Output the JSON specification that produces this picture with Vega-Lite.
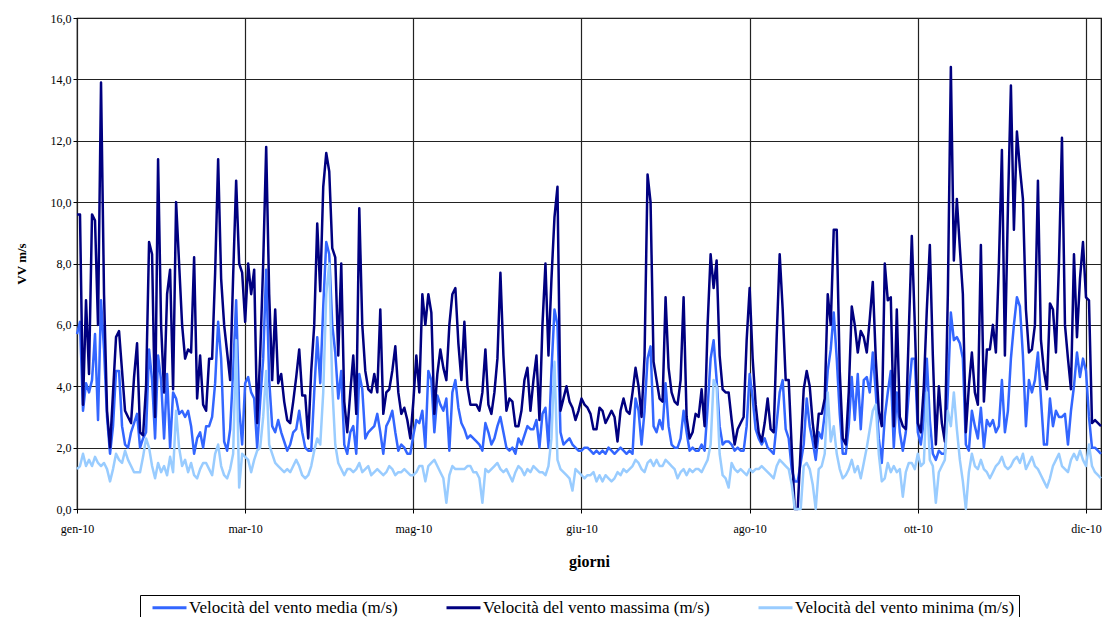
{
"$schema":"https://vega.github.io/schema/vega-lite/v6.json",
"width":1024,"height":491,
"autosize":{"type":"none"},
"padding":{"left":77,"top":18,"right":11,"bottom":108},
"background":"white",
"config":{"view":{"stroke":"#000","strokeWidth":1.2},"font":"Liberation Serif"},
"data":{"values":[
{"giorno":0,"media":5.7,"massima":9.6,"minima":1.3},{"giorno":1,"media":6.1,"massima":9.6,"minima":1.4},{"giorno":2,"media":3.2,"massima":3.4,"minima":1.8},{"giorno":3,"media":4.1,"massima":6.8,"minima":1.4},{"giorno":4,"media":3.8,"massima":4.4,"minima":1.6},{"giorno":5,"media":4.2,"massima":9.6,"minima":1.4},{"giorno":6,"media":5.7,"massima":9.4,"minima":1.7},{"giorno":7,"media":2.9,"massima":6.0,"minima":1.5},{"giorno":8,"media":6.8,"massima":13.9,"minima":1.4},{"giorno":9,"media":5.2,"massima":7.0,"minima":1.5},
{"giorno":10,"media":3.0,"massima":3.2,"minima":1.3},{"giorno":11,"media":1.8,"massima":2.0,"minima":0.9},{"giorno":12,"media":2.7,"massima":3.8,"minima":1.3},{"giorno":13,"media":4.5,"massima":5.6,"minima":1.8},{"giorno":14,"media":4.5,"massima":5.8,"minima":1.6},{"giorno":15,"media":2.7,"massima":4.5,"minima":1.5},{"giorno":16,"media":2.1,"massima":3.2,"minima":1.9},{"giorno":17,"media":2.0,"massima":3.0,"minima":1.6},{"giorno":18,"media":2.5,"massima":2.8,"minima":1.4},{"giorno":19,"media":2.8,"massima":4.3,"minima":1.2},
{"giorno":20,"media":3.1,"massima":5.4,"minima":1.2},{"giorno":21,"media":2.0,"massima":2.5,"minima":1.2},{"giorno":22,"media":2.3,"massima":2.4,"minima":1.7},{"giorno":23,"media":2.5,"massima":4.0,"minima":2.3},{"giorno":24,"media":5.2,"massima":8.7,"minima":2.0},{"giorno":25,"media":4.2,"massima":8.3,"minima":1.4},{"giorno":26,"media":2.3,"massima":3.0,"minima":1.0},{"giorno":27,"media":5.0,"massima":11.4,"minima":1.5},{"giorno":28,"media":4.2,"massima":6.0,"minima":1.2},{"giorno":29,"media":2.3,"massima":3.8,"minima":1.4},
{"giorno":30,"media":4.4,"massima":7.0,"minima":1.1},{"giorno":31,"media":2.0,"massima":7.8,"minima":1.7},{"giorno":32,"media":3.8,"massima":3.9,"minima":1.2},{"giorno":33,"media":3.6,"massima":10.0,"minima":3.2},{"giorno":34,"media":3.1,"massima":8.0,"minima":2.0},{"giorno":35,"media":3.2,"massima":6.0,"minima":1.4},{"giorno":36,"media":3.0,"massima":4.9,"minima":1.6},{"giorno":37,"media":3.2,"massima":5.2,"minima":1.2},{"giorno":38,"media":2.7,"massima":5.1,"minima":1.5},{"giorno":39,"media":1.8,"massima":8.2,"minima":1.1},
{"giorno":40,"media":2.3,"massima":3.6,"minima":1.0},{"giorno":41,"media":2.5,"massima":5.0,"minima":1.3},{"giorno":42,"media":2.0,"massima":3.4,"minima":1.5},{"giorno":43,"media":2.7,"massima":3.2,"minima":1.5},{"giorno":44,"media":2.7,"massima":4.9,"minima":1.3},{"giorno":45,"media":3.0,"massima":4.9,"minima":1.1},{"giorno":46,"media":4.1,"massima":7.7,"minima":1.8},{"giorno":47,"media":6.1,"massima":11.4,"minima":2.1},{"giorno":48,"media":4.9,"massima":7.5,"minima":1.4},{"giorno":49,"media":2.2,"massima":6.0,"minima":1.1},
{"giorno":50,"media":1.9,"massima":5.1,"minima":1.0},{"giorno":51,"media":2.6,"massima":4.2,"minima":1.3},{"giorno":52,"media":4.5,"massima":7.6,"minima":1.8},{"giorno":53,"media":6.8,"massima":10.7,"minima":5.5},{"giorno":54,"media":3.3,"massima":8.0,"minima":0.7},{"giorno":55,"media":2.1,"massima":7.7,"minima":1.8},{"giorno":56,"media":4.1,"massima":6.1,"minima":1.7},{"giorno":57,"media":4.3,"massima":8.0,"minima":1.6},{"giorno":58,"media":3.8,"massima":7.0,"minima":1.2},{"giorno":59,"media":3.6,"massima":7.8,"minima":1.6},
{"giorno":60,"media":2.0,"massima":2.8,"minima":1.9},{"giorno":61,"media":3.5,"massima":5.0,"minima":2.0},{"giorno":62,"media":4.9,"massima":8.0,"minima":3.0},{"giorno":63,"media":7.8,"massima":11.8,"minima":4.5},{"giorno":64,"media":4.2,"massima":7.0,"minima":2.1},{"giorno":65,"media":2.7,"massima":4.2,"minima":1.8},{"giorno":66,"media":2.5,"massima":6.5,"minima":1.5},{"giorno":67,"media":2.9,"massima":4.1,"minima":1.4},{"giorno":68,"media":2.5,"massima":4.4,"minima":1.3},{"giorno":69,"media":2.2,"massima":3.5,"minima":1.2},
{"giorno":70,"media":1.9,"massima":2.9,"minima":1.3},{"giorno":71,"media":2.1,"massima":2.8,"minima":1.2},{"giorno":72,"media":2.5,"massima":3.5,"minima":1.4},{"giorno":73,"media":2.6,"massima":4.3,"minima":1.6},{"giorno":74,"media":3.2,"massima":5.2,"minima":1.4},{"giorno":75,"media":2.5,"massima":3.7,"minima":1.1},{"giorno":76,"media":2.0,"massima":3.7,"minima":1.0},{"giorno":77,"media":1.9,"massima":2.3,"minima":1.1},{"giorno":78,"media":1.9,"massima":4.5,"minima":1.4},{"giorno":79,"media":3.8,"massima":6.0,"minima":1.9},
{"giorno":80,"media":5.6,"massima":9.3,"minima":2.3},{"giorno":81,"media":4.1,"massima":7.1,"minima":2.1},{"giorno":82,"media":6.6,"massima":10.5,"minima":3.8},{"giorno":83,"media":8.7,"massima":11.6,"minima":7.0},{"giorno":84,"media":8.3,"massima":11.0,"minima":8.0},{"giorno":85,"media":6.0,"massima":8.5,"minima":4.0},{"giorno":86,"media":5.1,"massima":8.2,"minima":2.1},{"giorno":87,"media":3.6,"massima":5.0,"minima":1.5},{"giorno":88,"media":4.5,"massima":8.0,"minima":1.3},{"giorno":89,"media":2.1,"massima":3.5,"minima":1.1},
{"giorno":90,"media":1.8,"massima":2.5,"minima":1.3},{"giorno":91,"media":2.5,"massima":3.8,"minima":1.3},{"giorno":92,"media":2.7,"massima":5.0,"minima":1.2},{"giorno":93,"media":1.8,"massima":3.1,"minima":1.3},{"giorno":94,"media":4.4,"massima":9.8,"minima":1.5},{"giorno":95,"media":3.9,"massima":6.0,"minima":1.2},{"giorno":96,"media":2.3,"massima":4.5,"minima":1.3},{"giorno":97,"media":2.5,"massima":3.9,"minima":1.4},{"giorno":98,"media":2.6,"massima":3.8,"minima":1.1},{"giorno":99,"media":2.7,"massima":4.4,"minima":1.2},
{"giorno":100,"media":3.1,"massima":3.8,"minima":1.3},{"giorno":101,"media":2.5,"massima":6.5,"minima":1.2},{"giorno":102,"media":1.8,"massima":3.1,"minima":1.1},{"giorno":103,"media":2.7,"massima":3.8,"minima":1.2},{"giorno":104,"media":2.9,"massima":3.9,"minima":1.4},{"giorno":105,"media":3.2,"massima":4.5,"minima":1.3},{"giorno":106,"media":2.5,"massima":5.3,"minima":1.1},{"giorno":107,"media":1.9,"massima":3.8,"minima":1.2},{"giorno":108,"media":2.1,"massima":3.1,"minima":1.2},{"giorno":109,"media":2.0,"massima":3.3,"minima":1.3},
{"giorno":110,"media":1.8,"massima":2.9,"minima":1.2},{"giorno":111,"media":1.8,"massima":2.3,"minima":1.1},{"giorno":112,"media":2.4,"massima":3.5,"minima":1.1},{"giorno":113,"media":2.9,"massima":5.0,"minima":1.2},{"giorno":114,"media":2.8,"massima":3.8,"minima":1.4},{"giorno":115,"media":3.2,"massima":7.0,"minima":1.4},{"giorno":116,"media":2.0,"massima":6.0,"minima":0.9},{"giorno":117,"media":4.5,"massima":7.0,"minima":1.4},{"giorno":118,"media":4.2,"massima":6.4,"minima":1.5},{"giorno":119,"media":2.5,"massima":3.1,"minima":1.6},
{"giorno":120,"media":3.7,"massima":4.4,"minima":1.4},{"giorno":121,"media":3.4,"massima":5.2,"minima":1.2},{"giorno":122,"media":3.2,"massima":4.6,"minima":1.0},{"giorno":123,"media":3.6,"massima":4.2,"minima":0.2},{"giorno":124,"media":1.9,"massima":6.0,"minima":1.1},{"giorno":125,"media":3.8,"massima":7.0,"minima":1.4},{"giorno":126,"media":4.2,"massima":7.2,"minima":1.3},{"giorno":127,"media":3.3,"massima":5.4,"minima":1.3},{"giorno":128,"media":2.8,"massima":4.2,"minima":1.3},{"giorno":129,"media":2.6,"massima":6.1,"minima":1.3},
{"giorno":130,"media":2.3,"massima":4.0,"minima":1.4},{"giorno":131,"media":2.4,"massima":3.4,"minima":1.4},{"giorno":132,"media":2.3,"massima":3.4,"minima":1.2},{"giorno":133,"media":2.2,"massima":3.4,"minima":1.2},{"giorno":134,"media":2.1,"massima":3.2,"minima":1.0},{"giorno":135,"media":1.9,"massima":3.8,"minima":0.2},{"giorno":136,"media":2.8,"massima":5.2,"minima":1.3},{"giorno":137,"media":2.5,"massima":3.4,"minima":1.2},{"giorno":138,"media":2.1,"massima":3.1,"minima":1.3},{"giorno":139,"media":2.3,"massima":3.8,"minima":1.4},
{"giorno":140,"media":2.7,"massima":4.9,"minima":1.5},{"giorno":141,"media":3.0,"massima":7.7,"minima":1.3},{"giorno":142,"media":2.5,"massima":5.0,"minima":1.2},{"giorno":143,"media":2.0,"massima":3.2,"minima":1.3},{"giorno":144,"media":1.9,"massima":3.6,"minima":1.1},{"giorno":145,"media":2.0,"massima":3.5,"minima":0.9},{"giorno":146,"media":1.8,"massima":2.7,"minima":1.2},{"giorno":147,"media":2.3,"massima":2.7,"minima":1.4},{"giorno":148,"media":2.1,"massima":3.2,"minima":1.3},{"giorno":149,"media":2.4,"massima":4.2,"minima":1.1},
{"giorno":150,"media":2.7,"massima":4.6,"minima":1.3},{"giorno":151,"media":2.6,"massima":3.2,"minima":1.2},{"giorno":152,"media":2.6,"massima":4.2,"minima":1.4},{"giorno":153,"media":2.9,"massima":5.0,"minima":1.3},{"giorno":154,"media":2.0,"massima":2.9,"minima":1.2},{"giorno":155,"media":3.1,"massima":6.0,"minima":1.2},{"giorno":156,"media":3.3,"massima":8.0,"minima":1.1},{"giorno":157,"media":2.0,"massima":5.0,"minima":1.4},{"giorno":158,"media":4.5,"massima":7.5,"minima":2.3},{"giorno":159,"media":6.5,"massima":9.5,"minima":4.8},
{"giorno":160,"media":6.0,"massima":10.5,"minima":1.6},{"giorno":161,"media":2.5,"massima":3.2,"minima":1.3},{"giorno":162,"media":2.1,"massima":3.6,"minima":1.2},{"giorno":163,"media":2.2,"massima":4.0,"minima":1.1},{"giorno":164,"media":2.3,"massima":3.5,"minima":1.0},{"giorno":165,"media":2.1,"massima":3.3,"minima":0.6},{"giorno":166,"media":2.0,"massima":2.9,"minima":1.3},{"giorno":167,"media":1.9,"massima":3.2,"minima":1.2},{"giorno":168,"media":1.9,"massima":3.6,"minima":1.1},{"giorno":169,"media":2.0,"massima":3.4,"minima":1.0},
{"giorno":170,"media":2.0,"massima":3.3,"minima":1.1},{"giorno":171,"media":1.9,"massima":3.1,"minima":1.1},{"giorno":172,"media":1.8,"massima":2.6,"minima":1.2},{"giorno":173,"media":1.9,"massima":2.6,"minima":0.9},{"giorno":174,"media":1.8,"massima":3.3,"minima":1.1},{"giorno":175,"media":1.9,"massima":3.2,"minima":0.9},{"giorno":176,"media":1.8,"massima":2.8,"minima":1.1},{"giorno":177,"media":2.0,"massima":3.0,"minima":1.0},{"giorno":178,"media":1.9,"massima":3.2,"minima":0.9},{"giorno":179,"media":1.8,"massima":3.0,"minima":1.0},
{"giorno":180,"media":1.9,"massima":2.2,"minima":1.2},{"giorno":181,"media":2.0,"massima":3.2,"minima":1.1},{"giorno":182,"media":1.9,"massima":3.6,"minima":1.3},{"giorno":183,"media":1.8,"massima":3.2,"minima":1.2},{"giorno":184,"media":1.9,"massima":3.1,"minima":1.3},{"giorno":185,"media":1.8,"massima":3.8,"minima":1.4},{"giorno":186,"media":3.6,"massima":4.6,"minima":1.6},{"giorno":187,"media":3.2,"massima":4.0,"minima":1.5},{"giorno":188,"media":2.1,"massima":3.0,"minima":1.3},{"giorno":189,"media":3.2,"massima":5.0,"minima":1.2},
{"giorno":190,"media":4.9,"massima":10.9,"minima":1.5},{"giorno":191,"media":5.3,"massima":10.0,"minima":1.6},{"giorno":192,"media":2.7,"massima":4.8,"minima":1.4},{"giorno":193,"media":2.5,"massima":4.2,"minima":1.6},{"giorno":194,"media":2.9,"massima":3.6,"minima":1.4},{"giorno":195,"media":2.6,"massima":3.5,"minima":1.4},{"giorno":196,"media":4.1,"massima":6.9,"minima":1.6},{"giorno":197,"media":2.7,"massima":4.6,"minima":1.5},{"giorno":198,"media":2.1,"massima":3.8,"minima":1.4},{"giorno":199,"media":2.0,"massima":3.5,"minima":1.3},
{"giorno":200,"media":2.0,"massima":3.4,"minima":1.0},{"giorno":201,"media":2.3,"massima":4.2,"minima":1.2},{"giorno":202,"media":3.2,"massima":6.9,"minima":1.3},{"giorno":203,"media":2.5,"massima":3.0,"minima":1.1},{"giorno":204,"media":1.9,"massima":2.3,"minima":1.3},{"giorno":205,"media":2.0,"massima":2.5,"minima":1.2},{"giorno":206,"media":1.9,"massima":3.1,"minima":1.3},{"giorno":207,"media":1.9,"massima":3.0,"minima":1.3},{"giorno":208,"media":2.1,"massima":3.9,"minima":1.2},{"giorno":209,"media":1.9,"massima":2.7,"minima":1.4},
{"giorno":210,"media":3.3,"massima":6.0,"minima":1.6},{"giorno":211,"media":4.9,"massima":8.3,"minima":2.1},{"giorno":212,"media":5.5,"massima":7.2,"minima":4.2},{"giorno":213,"media":4.2,"massima":8.1,"minima":4.0},{"giorno":214,"media":2.7,"massima":5.0,"minima":1.8},{"giorno":215,"media":2.1,"massima":3.9,"minima":1.1},{"giorno":216,"media":2.2,"massima":3.8,"minima":1.0},{"giorno":217,"media":2.2,"massima":3.8,"minima":0.7},{"giorno":218,"media":2.1,"massima":2.9,"minima":1.5},{"giorno":219,"media":1.9,"massima":2.1,"minima":1.3},
{"giorno":220,"media":2.0,"massima":2.6,"minima":1.2},{"giorno":221,"media":1.9,"massima":2.8,"minima":1.3},{"giorno":222,"media":1.9,"massima":3.0,"minima":1.2},{"giorno":223,"media":2.7,"massima":5.5,"minima":1.1},{"giorno":224,"media":4.4,"massima":7.2,"minima":1.3},{"giorno":225,"media":3.6,"massima":4.9,"minima":1.2},{"giorno":226,"media":2.6,"massima":3.4,"minima":1.3},{"giorno":227,"media":2.3,"massima":2.5,"minima":1.3},{"giorno":228,"media":2.1,"massima":2.2,"minima":1.4},{"giorno":229,"media":2.3,"massima":2.8,"minima":1.3},
{"giorno":230,"media":2.0,"massima":3.6,"minima":1.2},{"giorno":231,"media":1.9,"massima":2.6,"minima":1.1},{"giorno":232,"media":1.8,"massima":2.5,"minima":1.0},{"giorno":233,"media":2.8,"massima":5.6,"minima":1.4},{"giorno":234,"media":3.8,"massima":8.3,"minima":1.6},{"giorno":235,"media":4.2,"massima":6.5,"minima":1.5},{"giorno":236,"media":2.6,"massima":4.2,"minima":1.4},{"giorno":237,"media":2.3,"massima":4.2,"minima":1.3},{"giorno":238,"media":1.3,"massima":2.0,"minima":0.8},{"giorno":239,"media":0.9,"massima":0.0,"minima":0.0},
{"giorno":240,"media":0.9,"massima":0.0,"minima":0.0},{"giorno":241,"media":1.5,"massima":2.0,"minima":0.0},{"giorno":242,"media":2.1,"massima":3.9,"minima":1.4},{"giorno":243,"media":3.6,"massima":4.5,"minima":1.5},{"giorno":244,"media":2.7,"massima":4.0,"minima":1.3},{"giorno":245,"media":2.2,"massima":2.8,"minima":0.8},{"giorno":246,"media":1.6,"massima":2.0,"minima":0.0},{"giorno":247,"media":2.5,"massima":3.1,"minima":1.3},{"giorno":248,"media":2.3,"massima":3.1,"minima":1.4},{"giorno":249,"media":3.1,"massima":3.6,"minima":1.8},
{"giorno":250,"media":4.5,"massima":7.0,"minima":3.8},{"giorno":251,"media":5.2,"massima":6.0,"minima":2.2},{"giorno":252,"media":6.4,"massima":9.1,"minima":2.7},{"giorno":253,"media":4.9,"massima":9.1,"minima":1.8},{"giorno":254,"media":3.1,"massima":4.5,"minima":1.3},{"giorno":255,"media":1.8,"massima":2.3,"minima":1.0},{"giorno":256,"media":1.8,"massima":2.1,"minima":1.1},{"giorno":257,"media":2.7,"massima":3.8,"minima":1.3},{"giorno":258,"media":4.3,"massima":6.6,"minima":1.6},{"giorno":259,"media":2.9,"massima":6.0,"minima":1.2},
{"giorno":260,"media":4.4,"massima":5.1,"minima":1.4},{"giorno":261,"media":2.6,"massima":5.8,"minima":1.0},{"giorno":262,"media":4.2,"massima":5.6,"minima":1.5},{"giorno":263,"media":4.3,"massima":5.1,"minima":2.0},{"giorno":264,"media":3.8,"massima":6.2,"minima":2.6},{"giorno":265,"media":5.1,"massima":7.4,"minima":3.2},{"giorno":266,"media":3.8,"massima":4.9,"minima":3.4},{"giorno":267,"media":2.3,"massima":3.2,"minima":1.8},{"giorno":268,"media":1.5,"massima":2.7,"minima":0.9},{"giorno":269,"media":3.0,"massima":8.0,"minima":1.0},
{"giorno":270,"media":3.8,"massima":6.8,"minima":1.5},{"giorno":271,"media":4.5,"massima":6.9,"minima":1.2},{"giorno":272,"media":2.0,"massima":2.7,"minima":1.4},{"giorno":273,"media":3.8,"massima":6.5,"minima":1.2},{"giorno":274,"media":2.5,"massima":3.0,"minima":1.3},{"giorno":275,"media":1.9,"massima":2.7,"minima":0.4},{"giorno":276,"media":2.5,"massima":2.6,"minima":1.2},{"giorno":277,"media":3.8,"massima":5.8,"minima":1.5},{"giorno":278,"media":4.9,"massima":8.9,"minima":1.5},{"giorno":279,"media":4.9,"massima":6.0,"minima":1.3},
{"giorno":280,"media":2.5,"massima":2.8,"minima":1.8},{"giorno":281,"media":2.1,"massima":2.5,"minima":1.4},{"giorno":282,"media":2.9,"massima":4.0,"minima":1.5},{"giorno":283,"media":4.9,"massima":6.5,"minima":3.8},{"giorno":284,"media":2.9,"massima":8.6,"minima":1.6},{"giorno":285,"media":1.8,"massima":5.0,"minima":1.4},{"giorno":286,"media":1.6,"massima":2.1,"minima":0.2},{"giorno":287,"media":1.9,"massima":4.0,"minima":1.2},{"giorno":288,"media":1.8,"massima":2.8,"minima":1.4},{"giorno":289,"media":1.8,"massima":2.2,"minima":1.6},
{"giorno":290,"media":3.8,"massima":7.0,"minima":3.2},{"giorno":291,"media":6.4,"massima":14.4,"minima":2.7},{"giorno":292,"media":5.5,"massima":8.1,"minima":3.8},{"giorno":293,"media":5.6,"massima":10.1,"minima":2.6},{"giorno":294,"media":5.4,"massima":8.5,"minima":1.6},{"giorno":295,"media":4.9,"massima":7.0,"minima":0.9},{"giorno":296,"media":2.1,"massima":2.5,"minima":0.0},{"giorno":297,"media":1.9,"massima":4.0,"minima":1.2},{"giorno":298,"media":3.2,"massima":5.1,"minima":1.8},{"giorno":299,"media":2.7,"massima":3.8,"minima":1.4},
{"giorno":300,"media":2.3,"massima":3.4,"minima":1.3},{"giorno":301,"media":3.3,"massima":8.6,"minima":1.6},{"giorno":302,"media":2.0,"massima":3.5,"minima":1.3},{"giorno":303,"media":2.9,"massima":5.2,"minima":1.2},{"giorno":304,"media":2.7,"massima":5.2,"minima":1.0},{"giorno":305,"media":2.9,"massima":6.0,"minima":1.2},{"giorno":306,"media":2.5,"massima":5.1,"minima":1.4},{"giorno":307,"media":2.7,"massima":8.0,"minima":1.5},{"giorno":308,"media":4.2,"massima":11.7,"minima":1.7},{"giorno":309,"media":2.5,"massima":5.0,"minima":1.4},
{"giorno":310,"media":3.2,"massima":9.8,"minima":1.3},{"giorno":311,"media":4.9,"massima":13.8,"minima":1.4},{"giorno":312,"media":6.0,"massima":9.1,"minima":1.6},{"giorno":313,"media":6.9,"massima":12.3,"minima":1.7},{"giorno":314,"media":6.6,"massima":11.1,"minima":1.5},{"giorno":315,"media":5.0,"massima":10.1,"minima":1.8},{"giorno":316,"media":2.7,"massima":6.5,"minima":1.3},{"giorno":317,"media":4.2,"massima":5.1,"minima":1.5},{"giorno":318,"media":3.8,"massima":5.2,"minima":1.7},{"giorno":319,"media":4.2,"massima":6.0,"minima":1.4},
{"giorno":320,"media":5.1,"massima":10.7,"minima":1.3},{"giorno":321,"media":3.6,"massima":5.5,"minima":1.1},{"giorno":322,"media":2.1,"massima":4.5,"minima":0.9},{"giorno":323,"media":2.1,"massima":3.9,"minima":0.7},{"giorno":324,"media":3.6,"massima":6.7,"minima":1.0},{"giorno":325,"media":2.7,"massima":6.5,"minima":1.4},{"giorno":326,"media":3.2,"massima":5.1,"minima":1.6},{"giorno":327,"media":3.0,"massima":8.0,"minima":1.8},{"giorno":328,"media":3.0,"massima":12.1,"minima":1.4},{"giorno":329,"media":3.1,"massima":6.0,"minima":1.3},
{"giorno":330,"media":2.1,"massima":4.9,"minima":1.2},{"giorno":331,"media":3.2,"massima":3.9,"minima":1.6},{"giorno":332,"media":4.0,"massima":8.3,"minima":1.8},{"giorno":333,"media":5.1,"massima":5.6,"minima":1.6},{"giorno":334,"media":4.3,"massima":7.5,"minima":1.9},{"giorno":335,"media":4.9,"massima":8.7,"minima":1.6},{"giorno":336,"media":4.5,"massima":6.9,"minima":1.4},{"giorno":337,"media":3.0,"massima":6.8,"minima":2.1},{"giorno":338,"media":2.0,"massima":2.8,"minima":1.4},{"giorno":339,"media":2.0,"massima":2.9,"minima":1.2},
{"giorno":340,"media":1.9,"massima":2.8,"minima":1.1},{"giorno":341,"media":1.8,"massima":2.7,"minima":1.0}
]},
"transform":[{"fold":["media","massima","minima"],"as":["serie","valore"]}],
"mark":{"type":"line","strokeWidth":2.5,"strokeJoin":"round"},
"encoding":{
"x":{"field":"giorno","type":"quantitative","scale":{"domain":[0,341],"nice":false,"zero":false},
"axis":{"values":[0,56,112,168,224,280,336],"labelExpr":"['gen-10','mar-10','mag-10','giu-10','ago-10','ott-10','dic-10'][round(datum.value/56)]","title":"giorni","grid":true,"gridColor":"#222","gridWidth":1.2,"domain":false,"ticks":true,"tickColor":"#000","tickSize":4,"labelFont":"Liberation Serif","labelFontSize":12,"labelColor":"#000","labelPadding":10,"labelFlush":false,"titleFont":"Liberation Serif","titleFontSize":16,"titleFontWeight":"bold","titleColor":"#000","titlePadding":19}},
"y":{"field":"valore","type":"quantitative","scale":{"domain":[0,16],"nice":false},
"axis":{"values":[0,2,4,6,8,10,12,14,16],"labelExpr":"replace(format(datum.value,'.1f'),'.',',')","title":"VV m/s","grid":true,"gridColor":"#222","gridWidth":1.2,"domain":false,"ticks":true,"tickColor":"#000","tickSize":4,"labelFont":"Liberation Serif","labelFontSize":12,"labelColor":"#000","labelPadding":2,"titleFont":"Liberation Serif","titleFontSize":13,"titleFontWeight":"bold","titleColor":"#000","titlePadding":22}},
"color":{"field":"serie","type":"nominal","sort":["media","massima","minima"],"scale":{"domain":["media","massima","minima"],"range":["#3366FF","#000080","#99CCFF"]},
"legend":{"orient":"none","legendX":63,"legendY":577,"direction":"horizontal","title":null,"labelExpr":"'Velocità del vento ' + datum.label + ' (m/s)'","symbolType":"M0,0H8.5","symbolSize":64,"symbolStrokeWidth":3,"labelOffset":28,"labelFont":"Liberation Serif","labelFontSize":17,"labelColor":"#000","strokeColor":"#000","padding":4,"columnPadding":40,"labelLimit":400}}
}
}
